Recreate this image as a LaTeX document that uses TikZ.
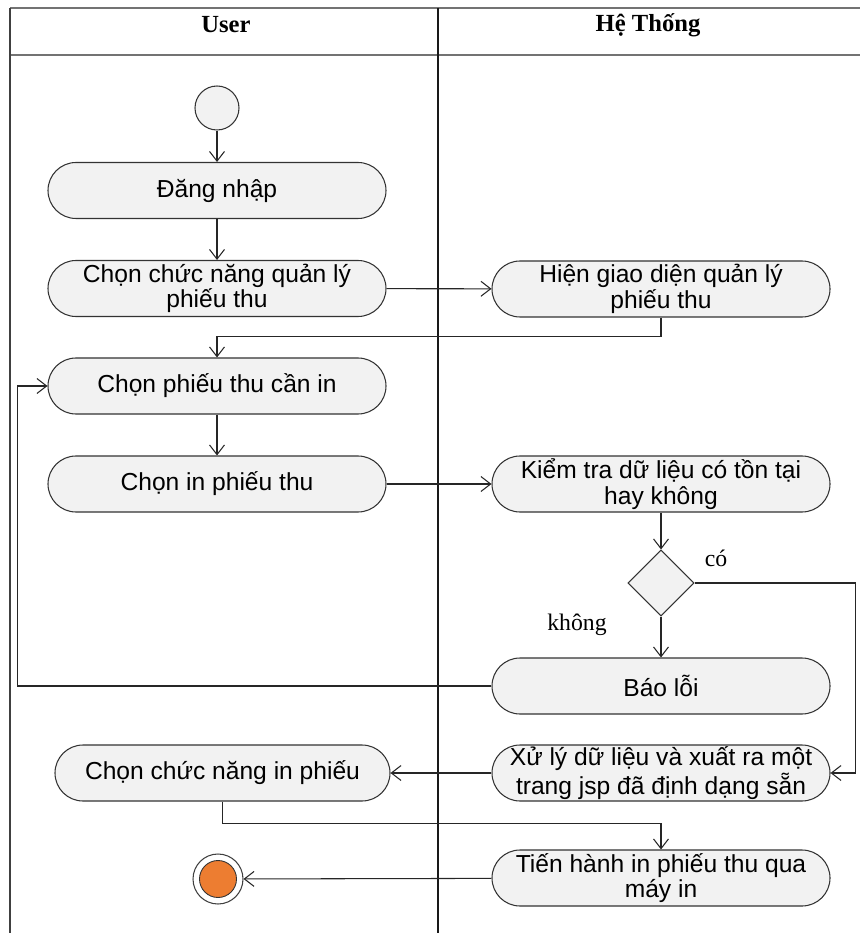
\documentclass[tikz,border=0pt]{standalone}
\usepackage{fontspec}
\setmainfont{Liberation Sans}
\newfontfamily\headfont{Liberation Serif}
\usetikzlibrary{arrows.meta,shapes.geometric}

\definecolor{actfill}{HTML}{F2F2F2}
\definecolor{endfill}{HTML}{ED7D31}

\tikzset{
  act/.style={draw=black!80, fill=actfill, line width=0.6pt,
    rounded corners=0.56cm, minimum width=6.76cm, minimum height=1.12cm,
    inner sep=0pt, align=center, font=\fontsize{14}{14.5}\selectfont},
  flow/.style={draw=black!85, line width=0.6pt,
    -{Straight Barb[length=5.5pt,width=8.5pt]}},
  lane/.style={line width=1pt, draw=black!55},
  lanehead/.style={font=\headfont\bfseries\fontsize{14}{16}\selectfont},
  guard/.style={font=\headfont\fontsize{13.5}{15}\selectfont}
}

\begin{document}
\begin{tikzpicture}

  \useasboundingbox (0,0) rectangle (17.2,-18.66);

  % Swimlanes
  \draw[lane] (0.20,-0.16) -- (17.2,-0.16);
  \draw[lane] (0.20,-1.10) -- (17.2,-1.10);
  \draw[lane, draw=black!75] (0.20,-0.16) -- (0.20,-18.66);
  \draw[lane, draw=black!90] (8.76,-0.16) -- (8.76,-18.66);
  \node[lanehead] (user) at (4.52,-0.50) {User};
  \node[lanehead] (sys) at (12.96,-0.50) {Hệ Thống};

  % Start
  \node[circle, draw=black!80, fill=actfill, line width=0.6pt,
        minimum size=0.88cm, inner sep=0pt] (start) at (4.34,-2.16) {};

  % User lane
  \node[act] (dang) at (4.34,-3.81) {Đăng nhập};
  \node[act] (chonql) at (4.34,-5.77) {Chọn chức năng quản lý\\phiếu thu};
  \node[act] (chonphieu) at (4.34,-7.72) {Chọn phiếu thu cần in};
  \node[act] (chonin) at (4.34,-9.68) {Chọn in phiếu thu};
  \node[act, minimum width=6.70cm] (chonchucnang) at (4.45,-15.46) {Chọn chức năng in phiếu};

  % System lane
  \node[act] (hien) at (13.22,-5.78) {Hiện giao diện quản lý\\phiếu thu};
  \node[act] (kiemtra) at (13.22,-9.68) {Kiểm tra dữ liệu có tồn tại\\hay không};
  \node[diamond, draw=black!80, fill=actfill, line width=0.6pt,
        minimum size=1.32cm, inner sep=0pt] (quyet) at (13.22,-11.66) {};
  \node[act] (baoloi) at (13.22,-13.72) {Báo lỗi};
  \node[act] (xuly) at (13.22,-15.46) {Xử lý dữ liệu và xuất ra một\\trang jsp đã định dạng sẵn};
  \node[act] (tienhanh) at (13.22,-17.56) {Tiến hành in phiếu thu qua\\máy in};

  % End
  \node[circle, draw=black!75, fill=white, line width=0.6pt,
        minimum size=1.0cm, inner sep=0pt] (end) at (4.36,-17.58) {};
  \fill[endfill, draw=black!80, line width=0.5pt] (end.center) circle (0.37);

  % Guards
  \node[guard] (co) at (14.32,-11.16) {có};
  \node[guard] (khong) at (11.54,-12.50) {không};

  % Flows
  \draw[flow] (start) -- (dang);
  \draw[flow] (dang) -- (chonql);
  \draw[flow] (chonql) -- (hien);
  \draw[flow] (hien.south) -- ++(0,-0.38) -| (chonphieu.north);
  \draw[flow] (chonphieu) -- (chonin);
  \draw[flow] (chonin) -- (kiemtra);
  \draw[flow] (kiemtra) -- (quyet);
  \draw[flow] (quyet) -- (baoloi);
  \draw[flow] (quyet.east) -- ++(3.22,0) |- (xuly.east);
  \draw[flow] (baoloi.west) -- ++(-9.48,0) |- (chonphieu.west);
  \draw[flow] (xuly) -- (chonchucnang);
  \draw[flow] (chonchucnang.south) -- ++(0,-0.44) -| (tienhanh.north);
  \draw[flow] (tienhanh) -- (end);

\end{tikzpicture}
\end{document}
